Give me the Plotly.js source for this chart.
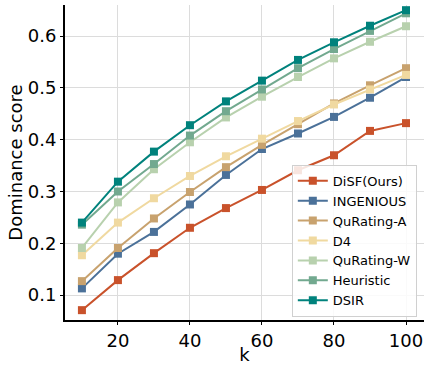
<!DOCTYPE html>
<html><head><meta charset="utf-8">
<script src="https://cdn.plot.ly/plotly-3.0.1.min.js"></script>
<style>body{margin:0;padding:0;background:#fff}#chart{width:426px;height:365px}</style>
</head><body><div id="chart"></div>
<script>
const k = [10,20,30,40,50,60,70,80,90,100];
const names = ["DiSF(Ours)","INGENIOUS","QuRating-A","D4","QuRating-W","Heuristic","DSIR"];
const colors = ["#c9522b","#4b7199","#c8a26e","#f0d9a0","#b8d1ae","#72a98f","#00827c"];
const disf      = [0.071,0.129,0.181,0.230,0.268,0.303,0.341,0.370,0.417,0.432];
const ingenious = [0.113,0.180,0.222,0.275,0.332,0.382,0.412,0.444,0.481,0.521];
const quratingA = [0.127,0.191,0.248,0.299,0.347,0.390,0.430,0.470,0.505,0.538];
const d4        = [0.177,0.240,0.287,0.330,0.368,0.402,0.436,0.468,0.497,0.525];
const quratingW = [0.191,0.279,0.343,0.395,0.443,0.483,0.521,0.557,0.589,0.619];
const heuristic = [0.236,0.300,0.353,0.408,0.455,0.497,0.538,0.575,0.610,0.644];
const dsir      = [0.240,0.319,0.377,0.428,0.474,0.514,0.554,0.588,0.620,0.650];
const series = [disf,ingenious,quratingA,d4,quratingW,heuristic,dsir];
const traces = series.map((ys,i)=>({
  x:k, y:ys, name:names[i], type:'scatter', mode:'lines+markers',
  line:{color:colors[i], width:2},
  marker:{symbol:'square', size:8, color:colors[i]}
}));
const layout = {
  width:426, height:365,
  margin:{l:65, r:2, t:5, b:45},
  paper_bgcolor:'#fff', plot_bgcolor:'#fff',
  font:{family:'DejaVu Sans', color:'#000'},
  showlegend:true,
  legend:{x:0.98, y:0.01, xanchor:'right', yanchor:'bottom',
    bgcolor:'rgba(255,255,255,0.85)', bordercolor:'#d0d0d0', borderwidth:1,
    font:{size:13, family:'DejaVu Sans'}, tracegroupgap:0, itemwidth:30},
  xaxis:{range:[5.3,105], tickvals:[20,40,60,80,100], showgrid:true, gridcolor:'#dcdcdc', gridwidth:1,
    zeroline:false, showline:true, linecolor:'#000', linewidth:2, ticks:'outside', ticklen:3, tickcolor:'#000',
    tickfont:{size:18}, title:{text:'k', font:{size:18}, standoff:2}},
  yaxis:{range:[0.052,0.66], tickvals:[0.1,0.2,0.3,0.4,0.5,0.6], showgrid:true, gridcolor:'#dcdcdc', gridwidth:1,
    zeroline:false, showline:true, linecolor:'#000', linewidth:2, ticks:'outside', ticklen:3, tickcolor:'#000',
    tickfont:{size:18}, title:{text:'Dominance score', font:{size:18}, standoff:0}}
};
Plotly.newPlot('chart', traces, layout, {displayModeBar:false, staticPlot:true});
</script></body></html>
